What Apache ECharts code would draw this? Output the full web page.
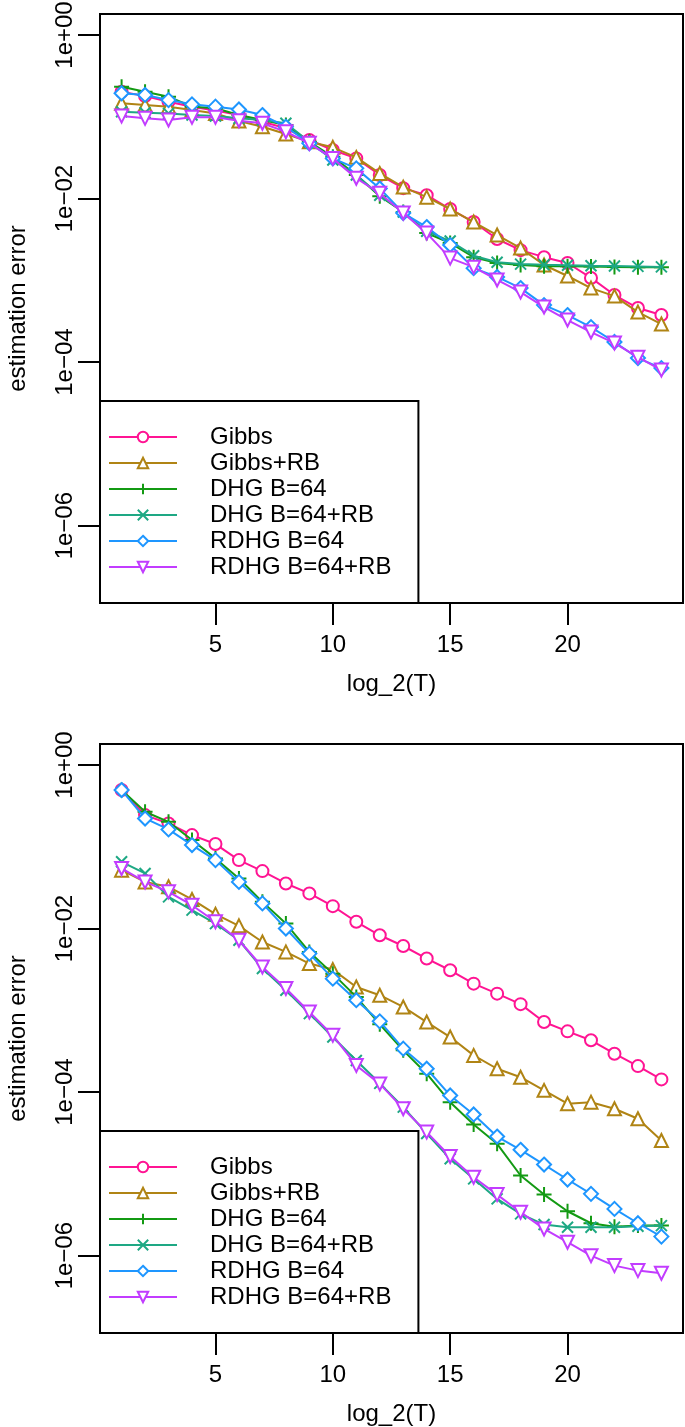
<!DOCTYPE html>
<html>
<head>
<meta charset="utf-8">
<script src="https://cdn.jsdelivr.net/npm/echarts@6/dist/echarts.min.js"></script>
<style>
  html, body { margin: 0; padding: 0; background: #fff; }
  #chart { width: 685px; height: 1427px; }
</style>
</head>
<body>
<div id="chart"></div>
<script>
// ---------- data ----------
const X = [1,2,3,4,5,6,7,8,9,10,11,12,13,14,15,16,17,18,19,20,21,22,23,24];
const SERIES_NAMES = ['Gibbs', 'Gibbs+RB', 'DHG B=64', 'DHG B=64+RB', 'RDHG B=64', 'RDHG B=64+RB'];
const X_TICKS = [5, 10, 15, 20];
const Y_TICKS = [1e-6, 1e-4, 1e-2, 1];

// top panel
const top_gibbs   = [0.202,0.179,0.153,0.133,0.119,0.105,0.0869,0.0723,0.052,0.0392,0.031,0.0194,0.0134,0.011,0.00745,0.00516,0.0032,0.00234,0.00192,0.00163,0.00107,0.000661,0.000458,0.000376];
const top_gibbsRB = [0.146,0.139,0.133,0.121,0.110,0.0887,0.0755,0.0615,0.0495,0.0423,0.0319,0.0203,0.0138,0.0104,0.00745,0.00516,0.00358,0.00248,0.00154,0.00113,0.000804,0.000641,0.000409,0.000292];
const top_dhg     = [0.233,0.202,0.176,0.133,0.127,0.105,0.0912,0.0793,0.0495,0.0324,0.0194,0.0107,0.00684,0.00378,0.00286,0.00192,0.00163,0.00154,0.00149,0.00149,0.00148,0.00146,0.00145,0.00145];
const top_dhgRB   = [0.115,0.112,0.110,0.105,0.102,0.0957,0.0912,0.0832,0.0495,0.0296,0.0194,0.0110,0.00684,0.00398,0.00302,0.00200,0.00166,0.00158,0.00155,0.00153,0.00151,0.00150,0.00148,0.00146];
const top_rdhg    = [0.194,0.185,0.160,0.142,0.133,0.123,0.105,0.0755,0.0473,0.0310,0.0234,0.0133,0.00665,0.00448,0.00270,0.00141,0.00110,0.000804,0.000498,0.000376,0.000268,0.000176,0.000112,0.0000845];
const top_rdhgRB  = [0.102,0.0957,0.0912,0.0984,0.0984,0.0895,0.0832,0.0656,0.0473,0.0310,0.0177,0.0116,0.00665,0.00378,0.00187,0.00145,0.00101,0.000718,0.000471,0.000327,0.000233,0.000171,0.000115,0.0000798];

// bottom panel
const bot_gibbs   = [0.494,0.244,0.193,0.139,0.108,0.0687,0.0504,0.0356,0.0269,0.0188,0.0121,0.00828,0.00612,0.00430,0.00309,0.00212,0.00160,0.00119,0.000719,0.000553,0.000430,0.000295,0.000208,0.000143];
const bot_gibbsRB = [0.0518,0.0372,0.0324,0.0227,0.0150,0.0108,0.00685,0.00518,0.00373,0.00315,0.00193,0.00153,0.00110,0.000719,0.000471,0.000281,0.000193,0.000152,0.000105,0.0000721,0.0000753,0.0000625,0.0000472,0.0000256];
const bot_dhg     = [0.494,0.268,0.202,0.121,0.0721,0.0410,0.0212,0.0115,0.00518,0.00281,0.00146,0.000675,0.000324,0.000168,0.0000753,0.0000402,0.0000233,0.00000955,0.00000558,0.00000349,0.00000249,0.00000226,0.00000233,0.00000233];
const bot_dhgRB   = [0.0655,0.0472,0.0244,0.0168,0.0115,0.00719,0.00324,0.00176,0.000912,0.000471,0.000244,0.000128,0.0000655,0.0000312,0.0000153,0.00000869,0.00000494,0.00000324,0.00000240,0.00000222,0.00000222,0.00000222,0.00000229,0.00000233];
const bot_rdhg    = [0.494,0.222,0.163,0.105,0.0687,0.0372,0.0203,0.0100,0.00494,0.00244,0.00133,0.000733,0.000340,0.000193,0.0000910,0.0000533,0.0000286,0.0000197,0.0000130,0.00000853,0.00000570,0.00000373,0.00000249,0.00000171];
const bot_rdhgRB  = [0.0543,0.0372,0.0281,0.0193,0.0121,0.00719,0.00339,0.00185,0.000953,0.000494,0.000212,0.000126,0.0000627,0.0000324,0.0000163,0.00000910,0.00000558,0.00000340,0.00000212,0.00000146,0.00000100,0.000000755,0.000000656,0.000000608];

const TOP = [top_gibbs, top_gibbsRB, top_dhg, top_dhgRB, top_rdhg, top_rdhgRB];
const BOT = [bot_gibbs, bot_gibbsRB, bot_dhg, bot_dhgRB, bot_rdhg, bot_rdhgRB];

// ---------- styling ----------
const FONT = 'Liberation Sans, Arial, Helvetica, sans-serif';
const FS = 24;
const COLORS = ['#FF1493', '#B08414', '#139A13', '#1EA884', '#1E96FF', '#C23CFF'];
const PLUS = 'path://M5,0 L5,10 M0,5 L10,5';
const CROSS = 'path://M0,0 L10,10 M10,0 L0,10';
const SYMBOLS = [
  { symbol: 'emptyCircle', size: 12, rotate: 0 },
  { symbol: 'emptyTriangle', size: 13, rotate: 0 },
  { symbol: PLUS, size: 15, rotate: 0 },
  { symbol: CROSS, size: 11, rotate: 0 },
  { symbol: 'emptyDiamond', size: 14, rotate: 0 },
  { symbol: 'emptyTriangle', size: 13, rotate: 180 }
];
const YLOG_MIN = -6.946, YLOG_MAX = 0.257;
const XMIN = 0.08, XMAX = 24.92;

function yFmt(v) {
  const e = Math.round(Math.log10(v));
  return '1e' + (e < 0 ? '\u2212' : '+') + String(Math.abs(e)).padStart(2, '0');
}

const grids = [
  { left: 100, top: 14, width: 583, height: 589 },
  { left: 100, top: 744, width: 583, height: 589 }
].map(g => Object.assign(g, {
  show: true, borderColor: '#000', borderWidth: 2, backgroundColor: 'transparent',
  containLabel: false, outerBoundsMode: 'none'
}));

function xAxis(i) {
  return {
    type: 'value', gridIndex: i, min: XMIN, max: XMAX,
    axisLine: { show: false }, splitLine: { show: false },
    axisTick: { show: true, length: 22, lineStyle: { color: '#000', width: 2 }, customValues: X_TICKS },
    axisLabel: { customValues: X_TICKS, margin: 30, fontSize: FS, color: '#000', fontFamily: FONT },
    name: 'log_2(T)', nameLocation: 'middle', nameGap: 69,
    nameTextStyle: { fontSize: FS, color: '#000', fontFamily: FONT }
  };
}
function yAxis(i) {
  return {
    type: 'log', logBase: 10, gridIndex: i,
    min: Math.pow(10, YLOG_MIN), max: Math.pow(10, YLOG_MAX),
    axisLine: { show: false }, splitLine: { show: false }, minorTick: { show: false },
    axisTick: { show: true, length: 22, lineStyle: { color: '#000', width: 2 }, customValues: Y_TICKS },
    axisLabel: { customValues: Y_TICKS, rotate: 90, margin: 23, fontSize: FS, color: '#000', fontFamily: FONT, formatter: yFmt },
    name: 'estimation error', nameLocation: 'middle', nameGap: 70, nameRotate: 90,
    nameTextStyle: { fontSize: FS, color: '#000', fontFamily: FONT }
  };
}
function legend(top) {
  return {
    left: 100, top: top, orient: 'vertical',
    itemWidth: 68, itemHeight: 13, itemGap: 2,
    padding: [24, 27, 24, 8],
    borderColor: '#000', borderWidth: 2, borderRadius: 0, backgroundColor: '#fff',
    textStyle: { fontSize: FS, color: '#000', fontFamily: FONT, padding: [0, 0, 0, 28] },
    selectedMode: false,
    data: SERIES_NAMES
  };
}

const series = [];
[TOP, BOT].forEach((panel, gi) => {
  panel.forEach((vals, si) => {
    const s = SYMBOLS[si];
    series.push({
      name: SERIES_NAMES[si], type: 'line', xAxisIndex: gi, yAxisIndex: gi,
      data: X.map((x, k) => [x, vals[k]]),
      symbol: s.symbol, symbolSize: s.size, symbolRotate: s.rotate, showSymbol: true,
      lineStyle: { color: COLORS[si], width: 2 },
      itemStyle: { color: COLORS[si], borderColor: COLORS[si], borderWidth: 2 },
      emphasis: { disabled: true },
      z: 2 + si
    });
  });
});

const chart = echarts.init(document.getElementById('chart'), null, { renderer: 'canvas' });
chart.setOption({
  animation: false,
  backgroundColor: '#fff',
  textStyle: { fontFamily: FONT },
  grid: grids,
  xAxis: [xAxis(0), xAxis(1)],
  yAxis: [yAxis(0), yAxis(1)],
  legend: [legend(401), legend(1131)],
  series: series
});
</script>
</body>
</html>
